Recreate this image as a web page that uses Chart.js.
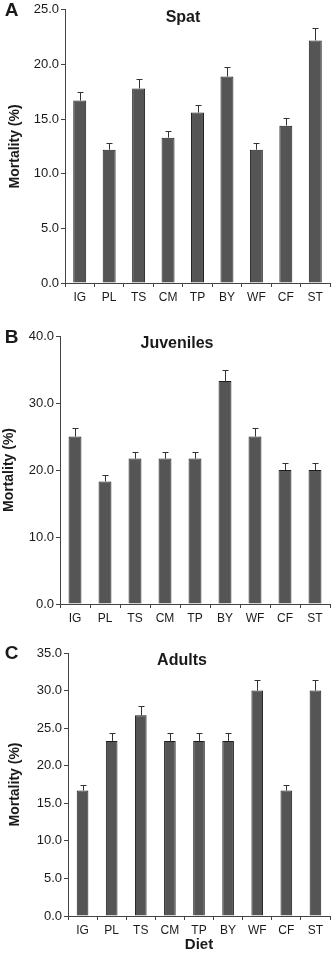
<!DOCTYPE html>
<html>
<head>
<meta charset="utf-8">
<script src="https://cdn.jsdelivr.net/npm/chart.js@4.4.0/dist/chart.umd.min.js"></script>
<style>
  body { margin: 0; background: #fff; }
  #wrap { position: relative; width: 332px; height: 955px; overflow: hidden; }
  canvas { position: absolute; left: 0; }
</style>
</head>
<body>
<div id="wrap">
  <canvas id="spat" width="332" height="310" style="top:0px"></canvas>
  <canvas id="juv" width="332" height="311" style="top:320px"></canvas>
  <canvas id="adult" width="332" height="319" style="top:636px"></canvas>
</div>
<script>
// diets on the x axis
const diets = ["IG", "PL", "TS", "CM", "TP", "BY", "WF", "CF", "ST"];

// mortality (%) and SE
const spatMort = [16.7, 12.2, 17.8, 13.3, 15.6, 18.9, 12.2, 14.4, 22.2];
const spatErr = [0.75, 0.6, 0.85, 0.6, 0.7, 0.9, 0.6, 0.7, 1.1];
const juvMort = [25.0, 18.3, 21.7, 21.7, 21.7, 33.3, 25.0, 20.0, 20.0];
const juvErr = [1.3, 0.9, 1.0, 1.0, 1.0, 1.7, 1.3, 1.0, 1.0];
const adultMort = [16.7, 23.3, 26.7, 23.3, 23.3, 23.3, 30.0, 16.7, 30.0];
const adultErr = [0.8, 1.1, 1.3, 1.1, 1.1, 1.1, 1.4, 0.8, 1.4];

// y axis ranges
const spatMax = 25, spatStep = 5;
const juvMax = 40, juvStep = 10;
const adultMax = 35, adultStep = 5;

const FONT = "'Liberation Sans', Arial, Helvetica, sans-serif";
const AXIS = "#444";
const TEXT = "#1a1a1a";

// error bars + in-plot title + panel letter
const extras = {
  id: "extras",
  afterDatasetsDraw(chart, args, opts) {
    const ctx = chart.ctx;
    const yScale = chart.scales.y;
    const meta = chart.getDatasetMeta(0);
    const vals = chart.data.datasets[0].data;
    ctx.save();
    ctx.strokeStyle = "#333";
    ctx.lineWidth = 1;
    meta.data.forEach((bar, i) => {
      const x = Math.round(bar.x) + 0.5;
      const yTop = Math.round(yScale.getPixelForValue(vals[i] + opts.err[i])) + 0.5;
      ctx.beginPath();
      ctx.moveTo(x, bar.y);
      ctx.lineTo(x, yTop);
      ctx.moveTo(x - 3, yTop);
      ctx.lineTo(x + 3, yTop);
      ctx.stroke();
    });
    const area = chart.chartArea;
    ctx.fillStyle = TEXT;
    ctx.textAlign = "center";
    ctx.textBaseline = "middle";
    ctx.font = "bold 16px " + FONT;
    ctx.fillText(opts.title, opts.titleX, area.top + 8);
    ctx.font = "bold 19px " + FONT;
    ctx.fillText(opts.letter, 11.5, opts.letterY);
    ctx.restore();
  }
};

function makePanel(id, values, errs, max, step, o) {
  new Chart(document.getElementById(id), {
    type: "bar",
    data: {
      labels: diets,
      datasets: [{
        data: values,
        backgroundColor: "#555555",
        borderColor: "#1e1e1e",
        borderWidth: 1,
        borderSkipped: "bottom",
        categoryPercentage: 1,
        barPercentage: o.barPct
      }]
    },
    options: {
      responsive: false,
      animation: false,
      events: [],
      layout: { padding: { top: o.padTop, right: 2, left: 0, bottom: 0 } },
      plugins: {
        legend: { display: false },
        tooltip: { enabled: false },
        extras: { err: errs, title: o.title, titleX: o.titleX, letter: o.letter, letterY: o.letterY }
      },
      scales: {
        x: {
          grid: { drawOnChartArea: false, drawTicks: true, tickLength: 4, color: AXIS, offset: true },
          border: { display: true, color: AXIS, width: 1 },
          ticks: { color: TEXT, font: { family: FONT, size: 12 }, padding: 3, maxRotation: 0, autoSkip: false },
          title: o.xTitle ? { display: true, text: o.xTitle, color: TEXT, font: { family: FONT, size: 15, weight: "bold" }, padding: { top: 0, bottom: 1 } } : { display: false },
          afterFit(scale) { scale.height = o.xHeight; }
        },
        y: {
          min: 0,
          max: max,
          grid: { drawOnChartArea: false, drawTicks: true, tickLength: 4, color: AXIS },
          border: { display: true, color: AXIS, width: 1 },
          ticks: {
            stepSize: step,
            color: TEXT,
            font: { family: FONT, size: 13 },
            padding: 2,
            callback: (v) => v.toFixed(1)
          },
          title: { display: true, text: "Mortality (%)", color: TEXT, font: { family: FONT, size: 14, weight: "bold" }, padding: { top: o.yTitlePad, bottom: 0 } },
          afterFit(scale) { scale.width = o.yWidth; }
        }
      }
    },
    plugins: [extras]
  });
}

makePanel("spat", spatMort, spatErr, spatMax, spatStep, {
  barPct: 0.44, padTop: 9, xHeight: 27, yWidth: 65, yTitlePad: 6.5,
  title: "Spat", titleX: 183, letter: "A", letterY: 11
});
makePanel("juv", juvMort, juvErr, juvMax, juvStep, {
  barPct: 0.43, padTop: 16, xHeight: 27, yWidth: 60, yTitlePad: 1,
  title: "Juveniles", titleX: 177, letter: "B", letterY: 18
});
makePanel("adult", adultMort, adultErr, adultMax, adultStep, {
  barPct: 0.40, padTop: 17, xHeight: 39, yWidth: 68, yTitlePad: 7,
  title: "Adults", titleX: 182, letter: "C", letterY: 18, xTitle: "Diet"
});
</script>
</body>
</html>
